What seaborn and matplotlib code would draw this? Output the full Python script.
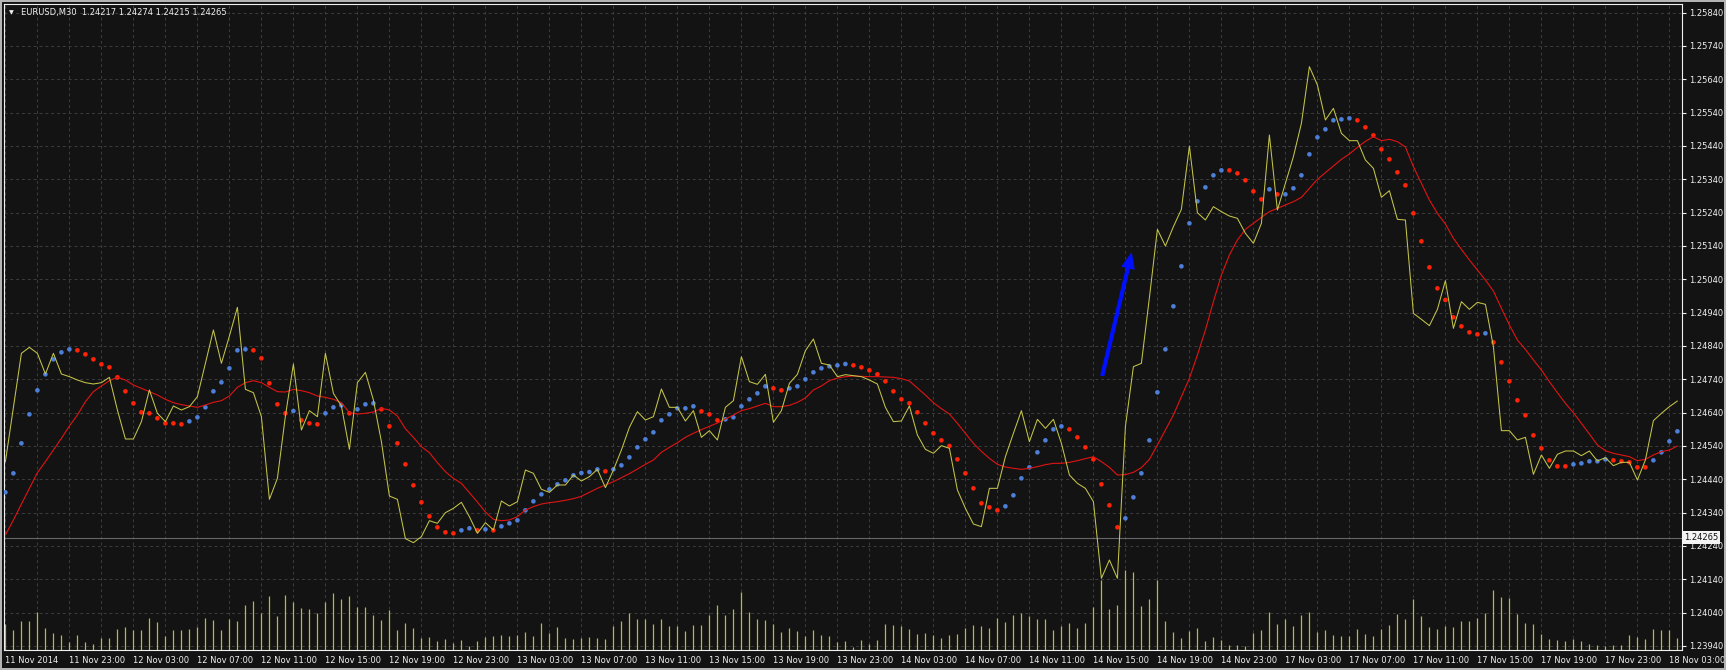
import numpy as np
import pandas as pd
import matplotlib
matplotlib.use("Agg")
import matplotlib.pyplot as plt
import matplotlib.transforms as mtransforms
from matplotlib.patches import Rectangle
import seaborn as sns

# ---------------- Data ----------------
header_text = "EURUSD,M30  1.24217 1.24274 1.24215 1.24265"
bid_price = 1.24265

# yellow price line, one value per bar
close_line = [
    1.24493, 1.24656, 1.24818, 1.24836, 1.24818, 1.24756, 1.24818, 1.24756, 1.24748, 1.24738,
    1.24730, 1.24726, 1.24730, 1.24746, 1.24648, 1.24561, 1.24561, 1.24613, 1.24708, 1.24638,
    1.24613, 1.24660, 1.24648, 1.24658, 1.24688, 1.24788, 1.24888, 1.24788, 1.24870, 1.24956,
    1.24710, 1.24700, 1.24628, 1.24380, 1.24443, 1.24630, 1.24786, 1.24588, 1.24646, 1.24628,
    1.24818, 1.24698, 1.24660, 1.24530, 1.24730, 1.24761, 1.24678, 1.24553, 1.24390, 1.24380,
    1.24262, 1.24250, 1.24268, 1.24316, 1.24308, 1.24340, 1.24353, 1.24371, 1.24328, 1.24278,
    1.24310, 1.24288, 1.24375, 1.24360, 1.24373, 1.24468, 1.24458, 1.24410, 1.24401, 1.24423,
    1.24423, 1.24453, 1.24435, 1.24448, 1.24470, 1.24415, 1.24468, 1.24528, 1.24596, 1.24643,
    1.24618, 1.24628, 1.24711, 1.24656, 1.24656, 1.24615, 1.24646, 1.24566, 1.24586, 1.24558,
    1.24656, 1.24676, 1.24808, 1.24733, 1.24725, 1.24755, 1.24611, 1.24646, 1.24728, 1.24755,
    1.24826, 1.24861, 1.24788, 1.24783, 1.24748, 1.24754, 1.24751, 1.24748, 1.24738, 1.24726,
    1.24656, 1.24613, 1.24615, 1.24660, 1.24573, 1.24530, 1.24518, 1.24541, 1.24533, 1.24408,
    1.24353, 1.24306, 1.24298, 1.24413, 1.24413, 1.24508, 1.24578, 1.24646, 1.24553, 1.24620,
    1.24593, 1.24620, 1.24548, 1.24453, 1.24428, 1.24413, 1.24373, 1.24143, 1.24198, 1.24143,
    1.24598, 1.24778, 1.24788, 1.24985, 1.25190, 1.25140, 1.25198, 1.25250, 1.25440, 1.25240,
    1.25218, 1.25258, 1.25243, 1.25230, 1.25223, 1.25178, 1.25148, 1.25208, 1.25473, 1.25248,
    1.25328, 1.25408, 1.25508, 1.25678, 1.25623, 1.25518, 1.25553, 1.25478, 1.25456, 1.25456,
    1.25398, 1.25373, 1.25286, 1.25306, 1.25220, 1.25218, 1.24938, 1.24920, 1.24901, 1.24950,
    1.25036, 1.24893, 1.24973, 1.24950, 1.24971, 1.24965, 1.24838, 1.24586, 1.24586, 1.24558,
    1.24566, 1.24455, 1.24513, 1.24473, 1.24515, 1.24525, 1.24525, 1.24511, 1.24525, 1.24495,
    1.24505, 1.24481, 1.24491, 1.24491, 1.24438, 1.24498, 1.24616, 1.24638, 1.24658, 1.24675,
]

# red moving average
ma_line = [
    1.24273, 1.24318, 1.24366, 1.24413, 1.24460, 1.24493, 1.24528, 1.24563, 1.24600, 1.24633,
    1.24673, 1.24703, 1.24720, 1.24736, 1.24746, 1.24738, 1.24723, 1.24713, 1.24703, 1.24693,
    1.24680, 1.24670, 1.24664, 1.24660, 1.24656, 1.24663, 1.24671, 1.24676, 1.24690, 1.24716,
    1.24730, 1.24736, 1.24730, 1.24716, 1.24703, 1.24702, 1.24710, 1.24706, 1.24700, 1.24690,
    1.24686, 1.24680, 1.24670, 1.24640, 1.24636, 1.24638, 1.24642, 1.24653, 1.24648, 1.24630,
    1.24592, 1.24566, 1.24538, 1.24520, 1.24490, 1.24463, 1.24443, 1.24428, 1.24400, 1.24372,
    1.24342, 1.24320, 1.24316, 1.24318, 1.24328, 1.24348, 1.24358, 1.24366, 1.24370, 1.24373,
    1.24377, 1.24382, 1.24389, 1.24401, 1.24413, 1.24423, 1.24433, 1.24445, 1.24457, 1.24471,
    1.24485, 1.24498, 1.24521, 1.24536, 1.24550, 1.24566, 1.24578, 1.24589, 1.24599, 1.24609,
    1.24621, 1.24633, 1.24646, 1.24652, 1.24660, 1.24668, 1.24658, 1.24658, 1.24662, 1.24671,
    1.24684, 1.24708, 1.24720, 1.24736, 1.24744, 1.24748, 1.24750, 1.24749, 1.24748, 1.24748,
    1.24747, 1.24746, 1.24742, 1.24735, 1.24714, 1.24693, 1.24670, 1.24652, 1.24636, 1.24608,
    1.24578, 1.24548, 1.24524, 1.24503, 1.24485, 1.24477, 1.24473, 1.24470, 1.24473, 1.24478,
    1.24484, 1.24488, 1.24488, 1.24491, 1.24496, 1.24502, 1.24508, 1.24493, 1.24476, 1.24453,
    1.24454, 1.24461, 1.24475, 1.24500, 1.24543, 1.24588, 1.24633, 1.24688, 1.24743, 1.24813,
    1.24888, 1.24973, 1.25053, 1.25113, 1.25158, 1.25190, 1.25208, 1.25226, 1.25243, 1.25253,
    1.25263, 1.25273, 1.25286, 1.25313, 1.25340, 1.25360, 1.25380, 1.25400, 1.25416, 1.25436,
    1.25454, 1.25468, 1.25456, 1.25460, 1.25453, 1.25437, 1.25378, 1.25328, 1.25278, 1.25238,
    1.25206, 1.25163, 1.25130, 1.25098, 1.25068, 1.25038, 1.25005, 1.24953, 1.24903, 1.24858,
    1.24830, 1.24798, 1.24768, 1.24733, 1.24700, 1.24668, 1.24640, 1.24608, 1.24576, 1.24543,
    1.24526, 1.24518, 1.24513, 1.24508, 1.24496, 1.24500, 1.24513, 1.24523, 1.24528, 1.24540,
]

# parabolic SAR dots
sar_values = [
    1.24401, 1.24458, 1.24548, 1.24635, 1.24707, 1.24755, 1.24800, 1.24821, 1.24830, 1.24827,
    1.24815, 1.24800, 1.24785, 1.24776, 1.24746, 1.24704, 1.24668, 1.24641, 1.24638, 1.24623,
    1.24608, 1.24608, 1.24605, 1.24614, 1.24626, 1.24656, 1.24704, 1.24731, 1.24773, 1.24827,
    1.24830, 1.24827, 1.24803, 1.24728, 1.24665, 1.24638, 1.24645, 1.24617, 1.24608, 1.24605,
    1.24638, 1.24656, 1.24662, 1.24638, 1.24650, 1.24665, 1.24668, 1.24650, 1.24599, 1.24548,
    1.24485, 1.24422, 1.24371, 1.24329, 1.24296, 1.24281, 1.24278, 1.24287, 1.24293, 1.24287,
    1.24290, 1.24287, 1.24299, 1.24308, 1.24317, 1.24347, 1.24374, 1.24395, 1.24410, 1.24425,
    1.24437, 1.24452, 1.24459, 1.24462, 1.24470, 1.24464, 1.24470, 1.24482, 1.24506, 1.24536,
    1.24560, 1.24581, 1.24617, 1.24635, 1.24653, 1.24653, 1.24659, 1.24644, 1.24635, 1.24617,
    1.24620, 1.24626, 1.24659, 1.24680, 1.24698, 1.24719, 1.24713, 1.24707, 1.24713, 1.24719,
    1.24740, 1.24761, 1.24773, 1.24779, 1.24782, 1.24786, 1.24782, 1.24776, 1.24767, 1.24755,
    1.24734, 1.24704, 1.24680, 1.24668, 1.24641, 1.24608, 1.24578, 1.24557, 1.24540, 1.24500,
    1.24458, 1.24413, 1.24368, 1.24356, 1.24347, 1.24359, 1.24392, 1.24443, 1.24476, 1.24521,
    1.24557, 1.24590, 1.24599, 1.24590, 1.24566, 1.24536, 1.24500, 1.24425, 1.24362, 1.24296,
    1.24323, 1.24386, 1.24458, 1.24557, 1.24701, 1.24830, 1.24959, 1.25079, 1.25208, 1.25274,
    1.25316, 1.25352, 1.25367, 1.25367, 1.25358, 1.25337, 1.25304, 1.25280, 1.25310, 1.25295,
    1.25295, 1.25313, 1.25352, 1.25415, 1.25466, 1.25490, 1.25517, 1.25520, 1.25523, 1.25517,
    1.25496, 1.25472, 1.25430, 1.25400, 1.25361, 1.25322, 1.25238, 1.25154, 1.25076, 1.25013,
    1.24978, 1.24926, 1.24899, 1.24881, 1.24875, 1.24878, 1.24851, 1.24791, 1.24734, 1.24677,
    1.24632, 1.24572, 1.24533, 1.24497, 1.24479, 1.24479, 1.24485, 1.24488, 1.24494, 1.24494,
    1.24500, 1.24497, 1.24494, 1.24491, 1.24476, 1.24476, 1.24497, 1.24521, 1.24554, 1.24584,
]

# b = blue dot (below price), r = red dot (above price)
sar_side = (
    "bbbbbbbbbr" "rrrrrrrrrr" "rrrbbbbbbb" "brrrrrbrrr" "bbbrbbbrrr"
    "rrrrrrrbbr" "brbbbbbbbb" "bbbbbrbbbb" "bbbbbbbrrr" "bbbbbbrrbb"
    "bbbbbbrrrr" "rrrrrrrrrr" "rrrrrbbbbb" "bbbrrrrrrr" "bbbbbbbbbb"
    "bbbrrrrrbr" "bbbbbbbbbr" "rrrrrrrrrr" "rrrrrbrrrr" "rrrrrrbbbb"
    "brrrrrbbbb"
)

# tick volume per bar
volumes = [
    264, 203, 295, 295, 376, 224, 173, 153, 85, 153,
    85, 61, 122, 122, 214, 234, 203, 203, 325, 285,
    142, 203, 203, 214, 234, 325, 305, 203, 315, 295,
    447, 488, 366, 539, 336, 549, 478, 417, 407, 366,
    478, 570, 509, 539, 427, 427, 346, 305, 397, 203,
    275, 224, 122, 132, 92, 112, 71, 102, 41, 92,
    132, 142, 153, 142, 153, 183, 142, 275, 173, 234,
    122, 112, 122, 132, 120, 112, 244, 295, 366, 315,
    315, 264, 315, 244, 244, 193, 254, 254, 346, 447,
    346, 407, 583, 376, 315, 305, 264, 183, 224, 193,
    142, 203, 153, 142, 81, 92, 31, 102, 61, 102,
    264, 254, 244, 214, 163, 173, 153, 122, 153, 163,
    224, 254, 244, 224, 325, 285, 346, 366, 336, 315,
    315, 203, 244, 275, 224, 275, 427, 700, 407, 447,
    800, 780, 437, 509, 700, 286, 184, 122, 194, 224,
    92, 133, 102, 51, 51, 41, 173, 204, 377, 265,
    306, 245, 347, 377, 184, 204, 153, 143, 143, 214,
    163, 143, 214, 255, 357, 306, 510, 337, 235, 214,
    245, 235, 286, 286, 316, 367, 602, 535, 525, 363,
    272, 263, 162, 110, 100, 90, 110, 90, 62, 50,
    40, 50, 50, 150, 131, 111, 212, 202, 202, 121,
]

# bar times: M30 bars, weekend gap between Fri 14 Nov and Mon 17 Nov
bar_times = list(pd.date_range("2014-11-11 19:00", "2014-11-14 23:30", freq="30min")) + \
    list(pd.date_range("2014-11-17 00:00", "2014-11-18 03:30", freq="30min"))

# hand-drawn blue arrow (bar index, price)
arrow_tail = (137.1, 1.24750)
arrow_head = (140.8, 1.25122)

# ---------------- Style ----------------
BG = "#131313"
GRID = "#3d3d3d"
YELLOW = "#c4c44a"
VOL = "#b8b846"
MA_RED = "#e01414"
DOT_RED = "#ff2408"
DOT_BLUE = "#4d7ed8"
FG = "#f0f0f0"
FRAME = "#b4b4b4"

sns.set_theme(style="dark", rc={"axes.facecolor": BG, "figure.facecolor": BG,
                                "savefig.facecolor": BG})
plt.rcParams["font.family"] = ["DejaVu Sans"]
plt.rcParams["font.size"] = 6

idx = np.arange(len(close_line))
n_bars = len(idx)

W, H = 1726, 670
fig = plt.figure(figsize=(W / 100, H / 100), dpi=100)
px_left, px_right, px_top, px_bottom = 4, 1682, 4, 650
pos = [px_left / W, 1 - px_bottom / H, (px_right - px_left) / W, (px_bottom - px_top) / H]

# thin window frame around the whole picture
for (fx, fy, fw, fh) in [(0, 0, W, 2), (0, H - 2, W, 2), (0, 0, 2, H), (W - 2, 0, 2, H)]:
    fig.patches.append(Rectangle((fx / W, fy / H), fw / W, fh / H, transform=fig.transFigure,
                                 facecolor=FRAME, edgecolor="none", zorder=0))

# volume panel sits behind the price axes
ax_vol = fig.add_axes(pos)
ax = fig.add_axes(pos, sharex=ax_vol)
ax.patch.set_visible(False)

x_lo, x_hi = -0.175, 209.575
y_lo, y_hi = 1.23928, 1.25866
ax.set_xlim(x_lo, x_hi)
ax.set_ylim(y_lo, y_hi)
ax_vol.set_ylim(0, 6460)

# grid (every 2 hours / every 10 pips)
price_ticks = np.round(np.arange(1.23940, 1.25841, 0.001), 5)
for p in price_ticks:
    ax_vol.axhline((p - y_lo) / (y_hi - y_lo) * 6460, color=GRID,
                   lw=0.7, ls=(0, (3, 3)), zorder=0)
for i in range(0, n_bars, 4):
    ax_vol.axvline(i, color=GRID, lw=0.7, ls=(0, (3, 3)), zorder=0)

ax_vol.vlines(idx, 0, volumes, color=VOL, lw=0.9, zorder=1)
ax_vol.set_yticks([])
ax_vol.tick_params(axis="x", which="both", length=0, labelbottom=False)
for s in ax_vol.spines.values():
    s.set_visible(False)

# bid line
ax.axhline(bid_price, color="#666666", lw=0.8, zorder=1)

sns.scatterplot(x=idx, y=sar_values, hue=list(sar_side),
                palette={"b": DOT_BLUE, "r": DOT_RED}, s=11, linewidth=0,
                legend=False, ax=ax, zorder=3)
sns.lineplot(x=idx, y=ma_line, color=MA_RED, lw=0.8, ax=ax, zorder=4)
sns.lineplot(x=idx, y=close_line, color=YELLOW, lw=0.75, ax=ax, zorder=5)

ax.annotate("", xy=arrow_head, xytext=arrow_tail,
            arrowprops=dict(arrowstyle="simple,head_length=1.2,head_width=1.0,tail_width=0.3",
                            color="#0010ff", lw=0, mutation_scale=10,
                            shrinkA=0, shrinkB=0), zorder=6)

# axes, ticks and labels
ax.yaxis.tick_right()
ax.set_yticks(price_ticks)
ax.set_yticklabels([f"{p:.5f}" for p in price_ticks])
label_idx = list(range(0, n_bars, 8))
labels = [bar_times[0].strftime("%d %b %Y")] + \
    [bar_times[i].strftime("%d %b %H:%M") for i in label_idx[1:]]
ax.set_xticks(label_idx)
ax.set_xticklabels(labels, ha="left")
ax.tick_params(axis="both", colors=FG, labelcolor=FG, length=3, width=0.8,
               labelsize=6, direction="out")
ax.tick_params(axis="x", pad=1.5)
ax.tick_params(axis="y", pad=2)
ax.set_xlabel("")
ax.set_ylabel("")
for s in ax.spines.values():
    s.set_visible(True)
    s.set_color(FG)
    s.set_linewidth(0.8)

# bid price box on the scale
trans = mtransforms.blended_transform_factory(ax.transAxes, ax.transData)
ax.text(1.0 + 2 / (px_right - px_left), bid_price, f"{bid_price:.5f}", transform=trans,
        ha="left", va="center", fontsize=6, color="#101010", zorder=7,
        bbox=dict(boxstyle="square,pad=0.2", fc="#f4f4f4", ec="none"))

# header
fig.text(9 / W, 1 - 12.5 / H, "\u25bc", color=FG, fontsize=4.5, va="center", ha="left")
fig.text(20.5 / W, 1 - 12.7 / H, header_text, color=FG, fontsize=6, va="center", ha="left")

fig.savefig("out.png", dpi=100, facecolor=BG)
